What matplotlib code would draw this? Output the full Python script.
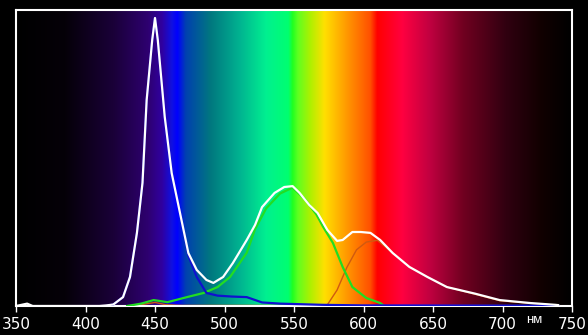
import matplotlib
matplotlib.use('Agg')
import matplotlib.pyplot as plt
import numpy as np
from matplotlib.colors import to_rgb

# spectrum data (relative intensity, nm)
wl_white = [350, 358, 362, 410, 415, 420, 427, 432, 437, 441, 444, 448, 450, 452,
            457, 462, 468, 474, 480, 487, 492, 499, 506, 516, 522, 527, 536, 543,
            549, 554, 561, 567, 574, 581, 585, 592, 598, 605, 612, 621, 633, 646,
            660, 680, 698, 720, 738, 740]
white = [0, 0.008, 0, 0, 0.002, 0.005, 0.03, 0.098, 0.247, 0.416, 0.696, 0.899, 0.973, 0.899,
         0.639, 0.449, 0.314, 0.179, 0.122, 0.088, 0.078, 0.098, 0.145, 0.223, 0.274, 0.334, 0.382, 0.402,
         0.405, 0.382, 0.341, 0.314, 0.257, 0.22, 0.223, 0.25, 0.25, 0.247, 0.223, 0.179, 0.132, 0.098,
         0.064, 0.042, 0.02, 0.01, 0.004, 0.003]

wl_blue = [415, 420, 427, 432, 437, 441, 444, 448, 450, 452, 457, 462, 468, 474,
           480, 487, 495, 505, 516, 527, 540, 570, 600, 740]
blue = [0.0, 0.005, 0.03, 0.098, 0.247, 0.416, 0.696, 0.899, 0.973, 0.899, 0.639, 0.449, 0.314, 0.17,
        0.098, 0.044, 0.035, 0.032, 0.03, 0.012, 0.008, 0.004, 0.002, 0.001]

wl_green = [430, 440, 449, 459, 473, 485, 495, 504, 516, 522, 530, 540, 549, 558,
            566, 571, 578, 585, 592, 602, 612, 615]
green = [0, 0.008, 0.02, 0.013, 0.03, 0.044, 0.064, 0.098, 0.18, 0.26, 0.33, 0.38, 0.40, 0.36,
         0.31, 0.267, 0.213, 0.132, 0.064, 0.027, 0.01, 0.0]

wl_red = [432, 442, 450, 458, 470, 560, 574, 581, 588, 595, 602, 610, 621, 633,
          646, 660, 680, 698, 720, 738]
red = [0, 0.006, 0.012, 0.004, 0.002, 0.002, 0.004, 0.054, 0.13, 0.19, 0.216, 0.222, 0.179, 0.132,
       0.098, 0.064, 0.04, 0.018, 0.009, 0.003]

ticks = [350, 400, 450, 500, 550, 600, 650, 700, 750]

# background rainbow stops
stops = [(350, '#000000'), (385, '#050008'), (420, '#1a0038'), (445, '#2e0070'),
         (455, '#3000a0'), (462, '#1010e0'), (466, '#0000ff'), (472, '#0040b0'),
         (490, '#00787f'), (510, '#00b090'), (530, '#00f090'), (546, '#00ff70'),
         (549, '#20ff20'), (553, '#60ff20'), (562, '#b0f000'), (572, '#ffe000'),
         (590, '#ff9000'), (605, '#ff5000'), (610, '#ff0000'), (628, '#ff0040'),
         (648, '#c00040'), (672, '#700020'), (703, '#300010'), (729, '#100000'),
         (750, '#000000')]

fig = plt.figure(figsize=(5.88, 3.35), dpi=100, facecolor='black')
ax = fig.add_axes([16 / 588, 29 / 335, 556 / 588, 296 / 335])
ax.set_facecolor('black')

xs = np.linspace(350, 750, 800)
sw = [s[0] for s in stops]
rgb = np.array([to_rgb(s[1]) for s in stops])
img = np.stack([np.interp(xs, sw, rgb[:, k]) for k in range(3)], axis=-1)[None, :, :]
ax.imshow(img, extent=[350, 750, 0, 1], aspect='auto', interpolation='bilinear', zorder=0)

ax.plot(wl_red, red, color='#d05a10', lw=1.0, zorder=2)
ax.plot(wl_green, green, color='#22dd22', lw=1.6, zorder=3)
ax.plot(wl_blue, blue, color='#1010d0', lw=1.6, zorder=4)
ax.plot(wl_white, white, color='white', lw=1.6, zorder=5)

ax.set_xlim(350, 750)
ax.set_ylim(0, 1)
ax.set_yticks([])
ax.set_xticks(ticks)
ax.set_xticklabels([str(t) for t in ticks], color='white', fontsize=11,
                   family=['Liberation Sans Narrow', 'DejaVu Sans'])
ax.tick_params(axis='x', colors='white', length=4, width=1, direction='out', pad=4)
for sp in ax.spines.values():
    sp.set_color('white')
    sp.set_linewidth(1.5)

fig.text(534 / 588, 1 - 320 / 335, 'нм', color='white', fontsize=9.5,
         ha='center', va='center', family=['Liberation Sans', 'DejaVu Sans'])

fig.savefig('out.png', dpi=100, facecolor='black')
